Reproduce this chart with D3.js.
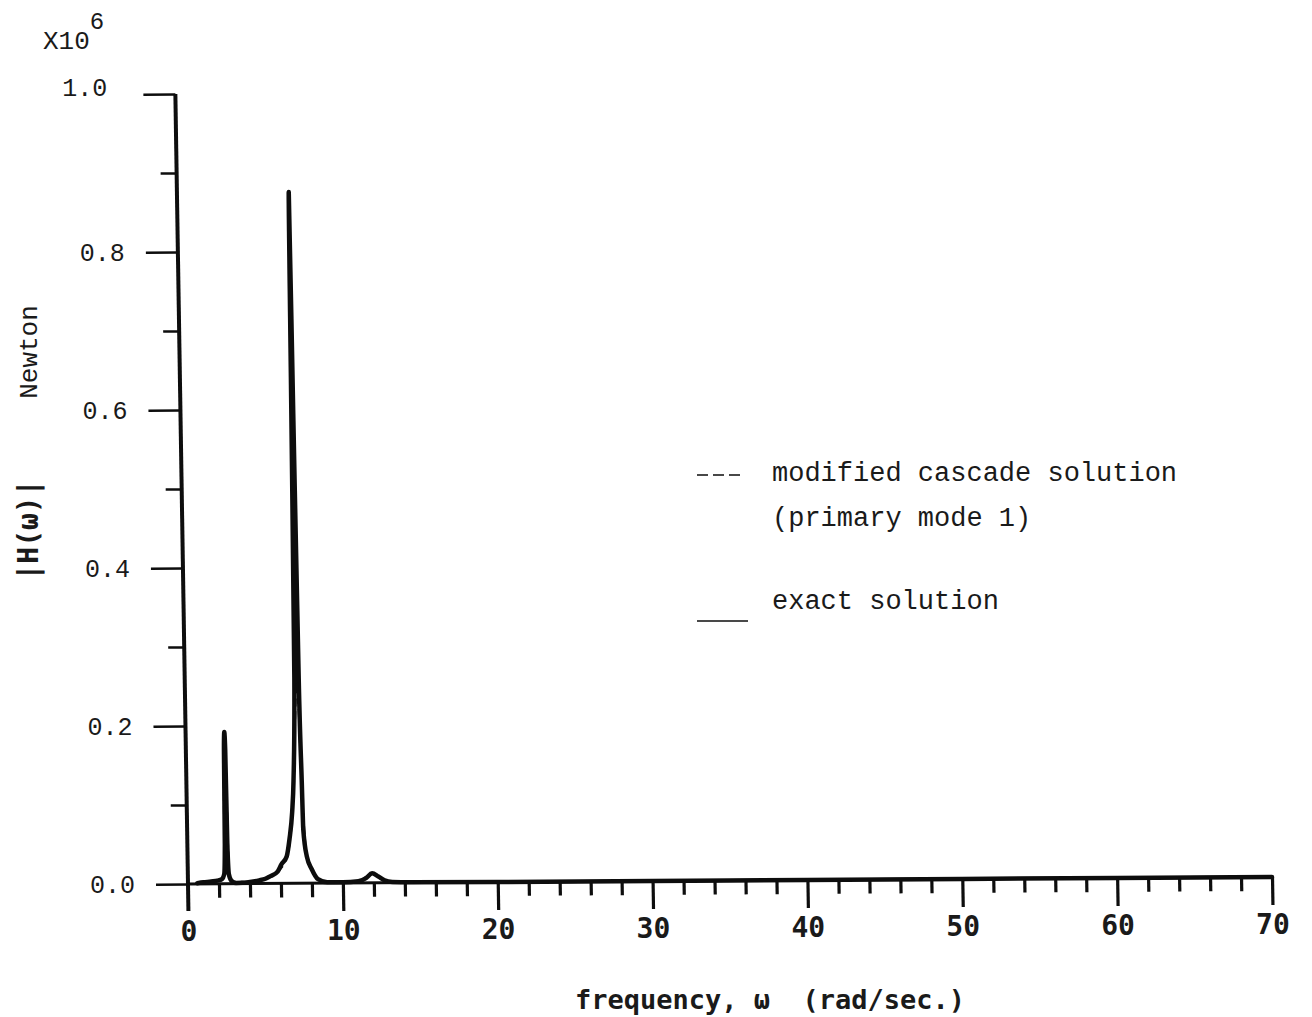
<!DOCTYPE html>
<html>
<head>
<meta charset="utf-8">
<script src="https://cdn.jsdelivr.net/npm/d3@7"></script>
<style>
  html, body { margin: 0; padding: 0; background: #fff; }
  svg { display: block; }
</style>
</head>
<body>
<svg id="chart" width="1312" height="1017"></svg>
<script>
// ---------------- data ----------------
const xTickValues = [0, 10, 20, 30, 40, 50, 60, 70];
const xTickLabels = ["0", "10", "20", "30", "40", "50", "60", "70"];
const yTickValues = [0, 0.2, 0.4, 0.6, 0.8, 1.0];
const yTickLabels = ["0.0", "0.2", "0.4", "0.6", "0.8", "1.0"];

// exact solution |H(w)| (x10^6 Newton)
const exactOmega = [0.6, 1.0, 1.5, 1.9, 2.2, 2.35, 2.42, 2.46, 2.5, 2.54, 2.58, 2.65, 2.8, 3.1, 3.5, 4.0, 4.6, 5.0, 5.3, 5.8, 6.05, 6.4, 6.6, 6.8, 6.92, 7.08, 7.16, 7.22, 7.28, 7.36, 7.45, 7.5, 7.7, 8.0, 8.4, 9.0, 10.0, 11.0, 11.5, 11.9, 12.3, 12.7, 13.2, 14.5, 20, 30, 40, 50, 60, 70];
const exactH =     [0.001, 0.002, 0.003, 0.004, 0.006, 0.012, 0.05, 0.17, 0.192, 0.17, 0.05, 0.012, 0.004, 0.001, 0.001, 0.002, 0.004, 0.006, 0.009, 0.015, 0.024, 0.034, 0.056, 0.09, 0.13, 0.26, 0.6, 0.875, 0.6, 0.26, 0.13, 0.068, 0.034, 0.018, 0.005, 0.001, 0.001, 0.002, 0.006, 0.012, 0.008, 0.003, 0.001, 0.0005, 0, 0, 0, 0, 0, 0];

// modified cascade solution (primary mode 1)
const modOmega = [0.6, 1.5, 2.2, 2.35, 2.45, 2.5, 2.55, 2.65, 3.0, 4.0, 5.0, 5.8, 6.4, 6.8, 6.95, 7.1, 7.22, 7.34, 7.45, 7.7, 8.0, 8.4, 9.0, 11.0, 11.9, 13.0, 15.0];
const modH =     [0.001, 0.003, 0.006, 0.012, 0.15, 0.188, 0.15, 0.012, 0.002, 0.002, 0.006, 0.015, 0.034, 0.09, 0.14, 0.22, 0.255, 0.22, 0.12, 0.034, 0.018, 0.005, 0.001, 0.002, 0.011, 0.001, 0];

const legendLabels = ["modified cascade solution", "(primary mode 1)", "exact solution"];

// ---------------- layout ----------------
const svg = d3.select("#chart");
svg.append("rect").attr("width", 1312).attr("height", 1017).attr("fill", "#fff");

const x = d3.scaleLinear().domain([0, 70]).range([188, 1272]);
const y = d3.scaleLinear().domain([0, 1]).range([884, 94]);

// slight skew of the scanned original
const ox = x(0), oy = y(0);
const skB = -0.0065, skC = 0.016;
function sk(px, py) {
  return [px + skC * (py - oy), py + skB * (px - ox)];
}

const plot = svg.append("g")
  .attr("transform", `translate(${ox},${oy}) matrix(1,${skB},${skC},1,0,0) translate(${-ox},${-oy})`);

const ink = "#0d0d0d";
const txt = "#1a1a1a";

// y axis line (extends below the x axis as the 0 tick)
plot.append("line")
  .attr("x1", x(0)).attr("x2", x(0))
  .attr("y1", y(1)).attr("y2", y(0) + 27)
  .attr("stroke", ink).attr("stroke-width", 4);

// y ticks
const yMajor = d3.axisLeft(y).tickValues(yTickValues).tickSize(32).tickFormat("");
const yMinor = d3.axisLeft(y).tickValues(d3.range(0.1, 1, 0.2)).tickSize(16).tickFormat("");
[yMajor, yMinor].forEach(ax => {
  const g = plot.append("g").attr("transform", `translate(${x(0)},0)`).call(ax);
  g.select(".domain").remove();
  g.selectAll("line").attr("stroke", ink).attr("stroke-width", 2.5);
});

// x axis line
plot.append("line")
  .attr("x1", x(0)).attr("x2", x(70))
  .attr("y1", y(0)).attr("y2", y(0))
  .attr("stroke", ink).attr("stroke-width", 3);

const xMajor = d3.axisBottom(x).tickValues(xTickValues.slice(1)).tickSize(28).tickFormat("");
const xMinor = d3.axisBottom(x).tickValues(d3.range(2, 70, 2).filter(v => v % 10 !== 0)).tickSize(14).tickFormat("");
[xMajor, xMinor].forEach(ax => {
  const g = plot.append("g").attr("transform", `translate(0,${y(0)})`).call(ax);
  g.select(".domain").remove();
  g.selectAll("line").attr("stroke", ink).attr("stroke-width", 3.2);
});

// curves
const exactData = exactOmega.map((w, i) => [w, exactH[i]]);
const modData = modOmega.map((w, i) => [w, modH[i]]);
const line = d3.line().x(d => x(d[0])).y(d => y(d[1])).curve(d3.curveMonotoneX);

plot.append("path").datum(exactData)
  .attr("d", line).attr("fill", "none")
  .attr("stroke", ink).attr("stroke-width", 4.5).attr("stroke-linejoin", "round").attr("stroke-linecap", "round");

plot.append("path").datum(modData)
  .attr("d", line).attr("fill", "none")
  .attr("stroke", ink).attr("stroke-width", 2.5).attr("stroke-dasharray", "8,5");

// ---------------- text ----------------
// y tick labels
const yLabelAdj = { "1.0": [-15, -7] };
yTickValues.forEach((v, i) => {
  const [px, py] = sk(x(0) - 32 - 21, y(v));
  const adj = yLabelAdj[yTickLabels[i]] || [0, 0];
  svg.append("text")
    .attr("x", px + adj[0]).attr("y", py + adj[1] + 2)
    .attr("text-anchor", "end").attr("dominant-baseline", "central")
    .attr("font-family", "Liberation Mono, monospace").attr("font-size", 25)
    .attr("fill", txt).text(yTickLabels[i]);
});

// x10^6
const mult = svg.append("text")
  .attr("x", 43).attr("y", 49)
  .attr("font-family", "Liberation Mono, monospace").attr("font-size", 26)
  .attr("fill", txt);
mult.append("tspan").text("X10");
mult.append("tspan").attr("dy", -20).attr("font-size", 24).text("6");

// x tick labels
xTickValues.forEach((v, i) => {
  const [px, py] = sk(x(v), y(0) + 57);
  svg.append("text")
    .attr("x", px).attr("y", py)
    .attr("text-anchor", "middle")
    .attr("font-family", "DejaVu Sans Mono, monospace").attr("font-weight", "bold").attr("font-size", 28)
    .attr("fill", txt).text(xTickLabels[i]);
});

// x axis title
svg.append("text")
  .attr("x", 770).attr("y", 1009)
  .attr("text-anchor", "middle")
  .style("white-space", "pre")
  .attr("font-family", "DejaVu Sans Mono, monospace").attr("font-weight", "bold").attr("font-size", 27)
  .attr("fill", txt).text("frequency, \u03c9  (rad/sec.)");

// y axis title (rotated)
svg.append("text")
  .attr("transform", "translate(37,352) rotate(-90)")
  .attr("text-anchor", "middle")
  .attr("font-family", "Liberation Mono, monospace").attr("font-size", 26)
  .attr("fill", txt).text("Newton");
svg.append("text")
  .attr("transform", "translate(38,530) rotate(-90)")
  .attr("text-anchor", "middle")
  .attr("font-family", "DejaVu Sans Mono, monospace").attr("font-weight", "bold").attr("font-size", 28)
  .attr("fill", txt).text("|H(\u03c9)|");

// legend
svg.append("line")
  .attr("x1", 697).attr("x2", 740).attr("y1", 475).attr("y2", 475)
  .attr("stroke", ink).attr("stroke-width", 1.5).attr("stroke-dasharray", "11,5");
svg.append("line")
  .attr("x1", 697).attr("x2", 748).attr("y1", 621).attr("y2", 621)
  .attr("stroke", ink).attr("stroke-width", 1.5);

const legendY = [481, 526, 609];
legendLabels.forEach((t, i) => {
  svg.append("text")
    .attr("x", 772).attr("y", legendY[i])
    .style("white-space", "pre")
    .attr("font-family", "Liberation Mono, monospace").attr("font-size", 27)
    .attr("fill", txt).text(t);
});
</script>
</body>
</html>
